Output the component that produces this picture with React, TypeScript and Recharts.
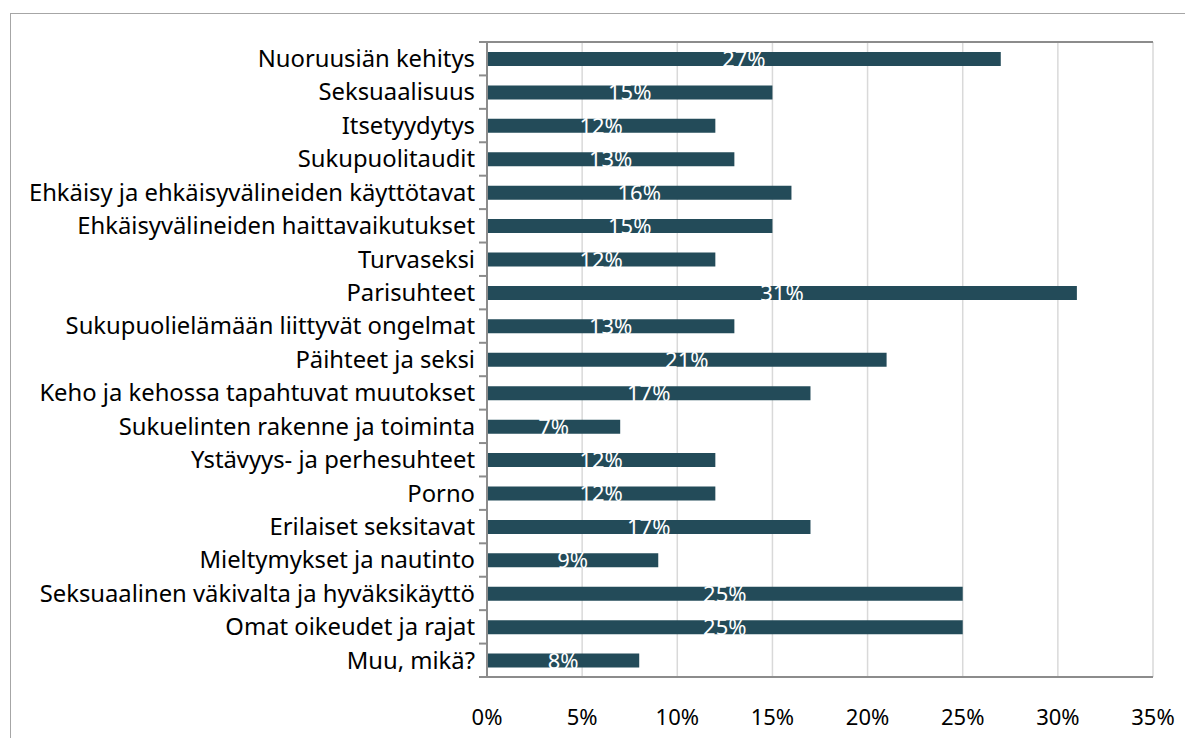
import React from "react";
import {
  BarChart,
  Bar,
  XAxis,
  YAxis,
  CartesianGrid,
  LabelList,
} from "recharts";

const categories = [
  "Nuoruusiän kehitys",
  "Seksuaalisuus",
  "Itsetyydytys",
  "Sukupuolitaudit",
  "Ehkäisy ja ehkäisyvälineiden käyttötavat",
  "Ehkäisyvälineiden haittavaikutukset",
  "Turvaseksi",
  "Parisuhteet",
  "Sukupuolielämään liittyvät ongelmat",
  "Päihteet ja seksi",
  "Keho ja kehossa tapahtuvat muutokset",
  "Sukuelinten rakenne ja toiminta",
  "Ystävyys- ja perhesuhteet",
  "Porno",
  "Erilaiset seksitavat",
  "Mieltymykset ja nautinto",
  "Seksuaalinen väkivalta ja hyväksikäyttö",
  "Omat oikeudet ja rajat",
  "Muu, mikä?",
];

const values = [27, 15, 12, 13, 16, 15, 12, 31, 13, 21, 17, 7, 12, 12, 17, 9, 25, 25, 8];

const xTicks = [0, 5, 10, 15, 20, 25, 30, 35];

const data = categories.map((name, i) => ({ name, value: values[i] }));

const FONT = "'Noto Sans', sans-serif";
const BAR = "#234B59";
const AXIS = "#8C8C8C";

const W = 1185;
const H = 730;
const M = { top: 24, right: 40, bottom: 21, left: 0 };
const Y_W = 479;
const TOP_H = 10;
const BOT_H = 40;
const PLOT_H = H - M.top - M.bottom - TOP_H - BOT_H;
const BAND = PLOT_H / categories.length;

const YTick = (props: any) => {
  const { x, y, payload, index } = props;
  const ax = x + 12;
  return (
    <g>
      <line x1={ax - 8} x2={ax} y1={y - BAND / 2} y2={y - BAND / 2} stroke={AXIS} strokeWidth={2} />
      {index === categories.length - 1 && (
        <line x1={ax - 8} x2={ax} y1={y + BAND / 2} y2={y + BAND / 2} stroke={AXIS} strokeWidth={2} />
      )}
      <text x={x} y={y} dy="0.35em" textAnchor="end" fill="#000" fontSize={23.8} fontFamily={FONT}>
        {payload.value}
      </text>
    </g>
  );
};

const BarLabel = (props: any) => {
  const { x, y, width, height, value } = props;
  return (
    <text
      x={x + width / 2}
      y={y + height / 2 + 8}
      textAnchor="middle"
      fill="#fff"
      fontSize={22}
      fontFamily={FONT}
    >
      {value}%
    </text>
  );
};

export default function App() {
  return (
    <div
      style={{
        position: "relative",
        width: W,
        height: H,
        borderLeft: "1px solid #A6A6A6",
        borderTop: "1px solid #A6A6A6",
        boxSizing: "border-box",
        marginLeft: 2,
        marginTop: 5,
      }}
    >
      <div style={{ position: "absolute", left: -3, top: -6 }}>
        <BarChart width={W} height={H} data={data} layout="vertical" margin={M} barSize={14}>
          <CartesianGrid horizontal={false} stroke="#D9D9D9" strokeWidth={1.5} />
          <XAxis
            xAxisId="top"
            orientation="top"
            type="number"
            domain={[0, 35]}
            ticks={xTicks}
            height={TOP_H}
            tickSize={8}
            tickFormatter={() => ""}
            stroke={AXIS}
            strokeWidth={2}
          />
          <XAxis
            type="number"
            domain={[0, 35]}
            ticks={xTicks}
            height={BOT_H}
            tickLine={false}
            tickMargin={26}
            tickFormatter={(v: number) => `${v}%`}
            tick={{ fill: "#000", fontSize: 22, fontFamily: FONT }}
            axisLine={{ stroke: AXIS, strokeWidth: 2 }}
          />
          <YAxis
            type="category"
            dataKey="name"
            width={Y_W}
            tickLine={false}
            tickSize={0}
            tickMargin={12}
            interval={0}
            tick={<YTick />}
            axisLine={{ stroke: AXIS, strokeWidth: 2 }}
          />
          <YAxis
            yAxisId="r"
            orientation="right"
            type="category"
            dataKey="name"
            width={0}
            tick={false}
            tickLine={false}
            axisLine={{ stroke: AXIS, strokeWidth: 2 }}
          />
          <Bar dataKey="value" fill={BAR} isAnimationActive={false}>
            <LabelList dataKey="value" content={<BarLabel />} />
          </Bar>
        </BarChart>
      </div>
    </div>
  );
}
